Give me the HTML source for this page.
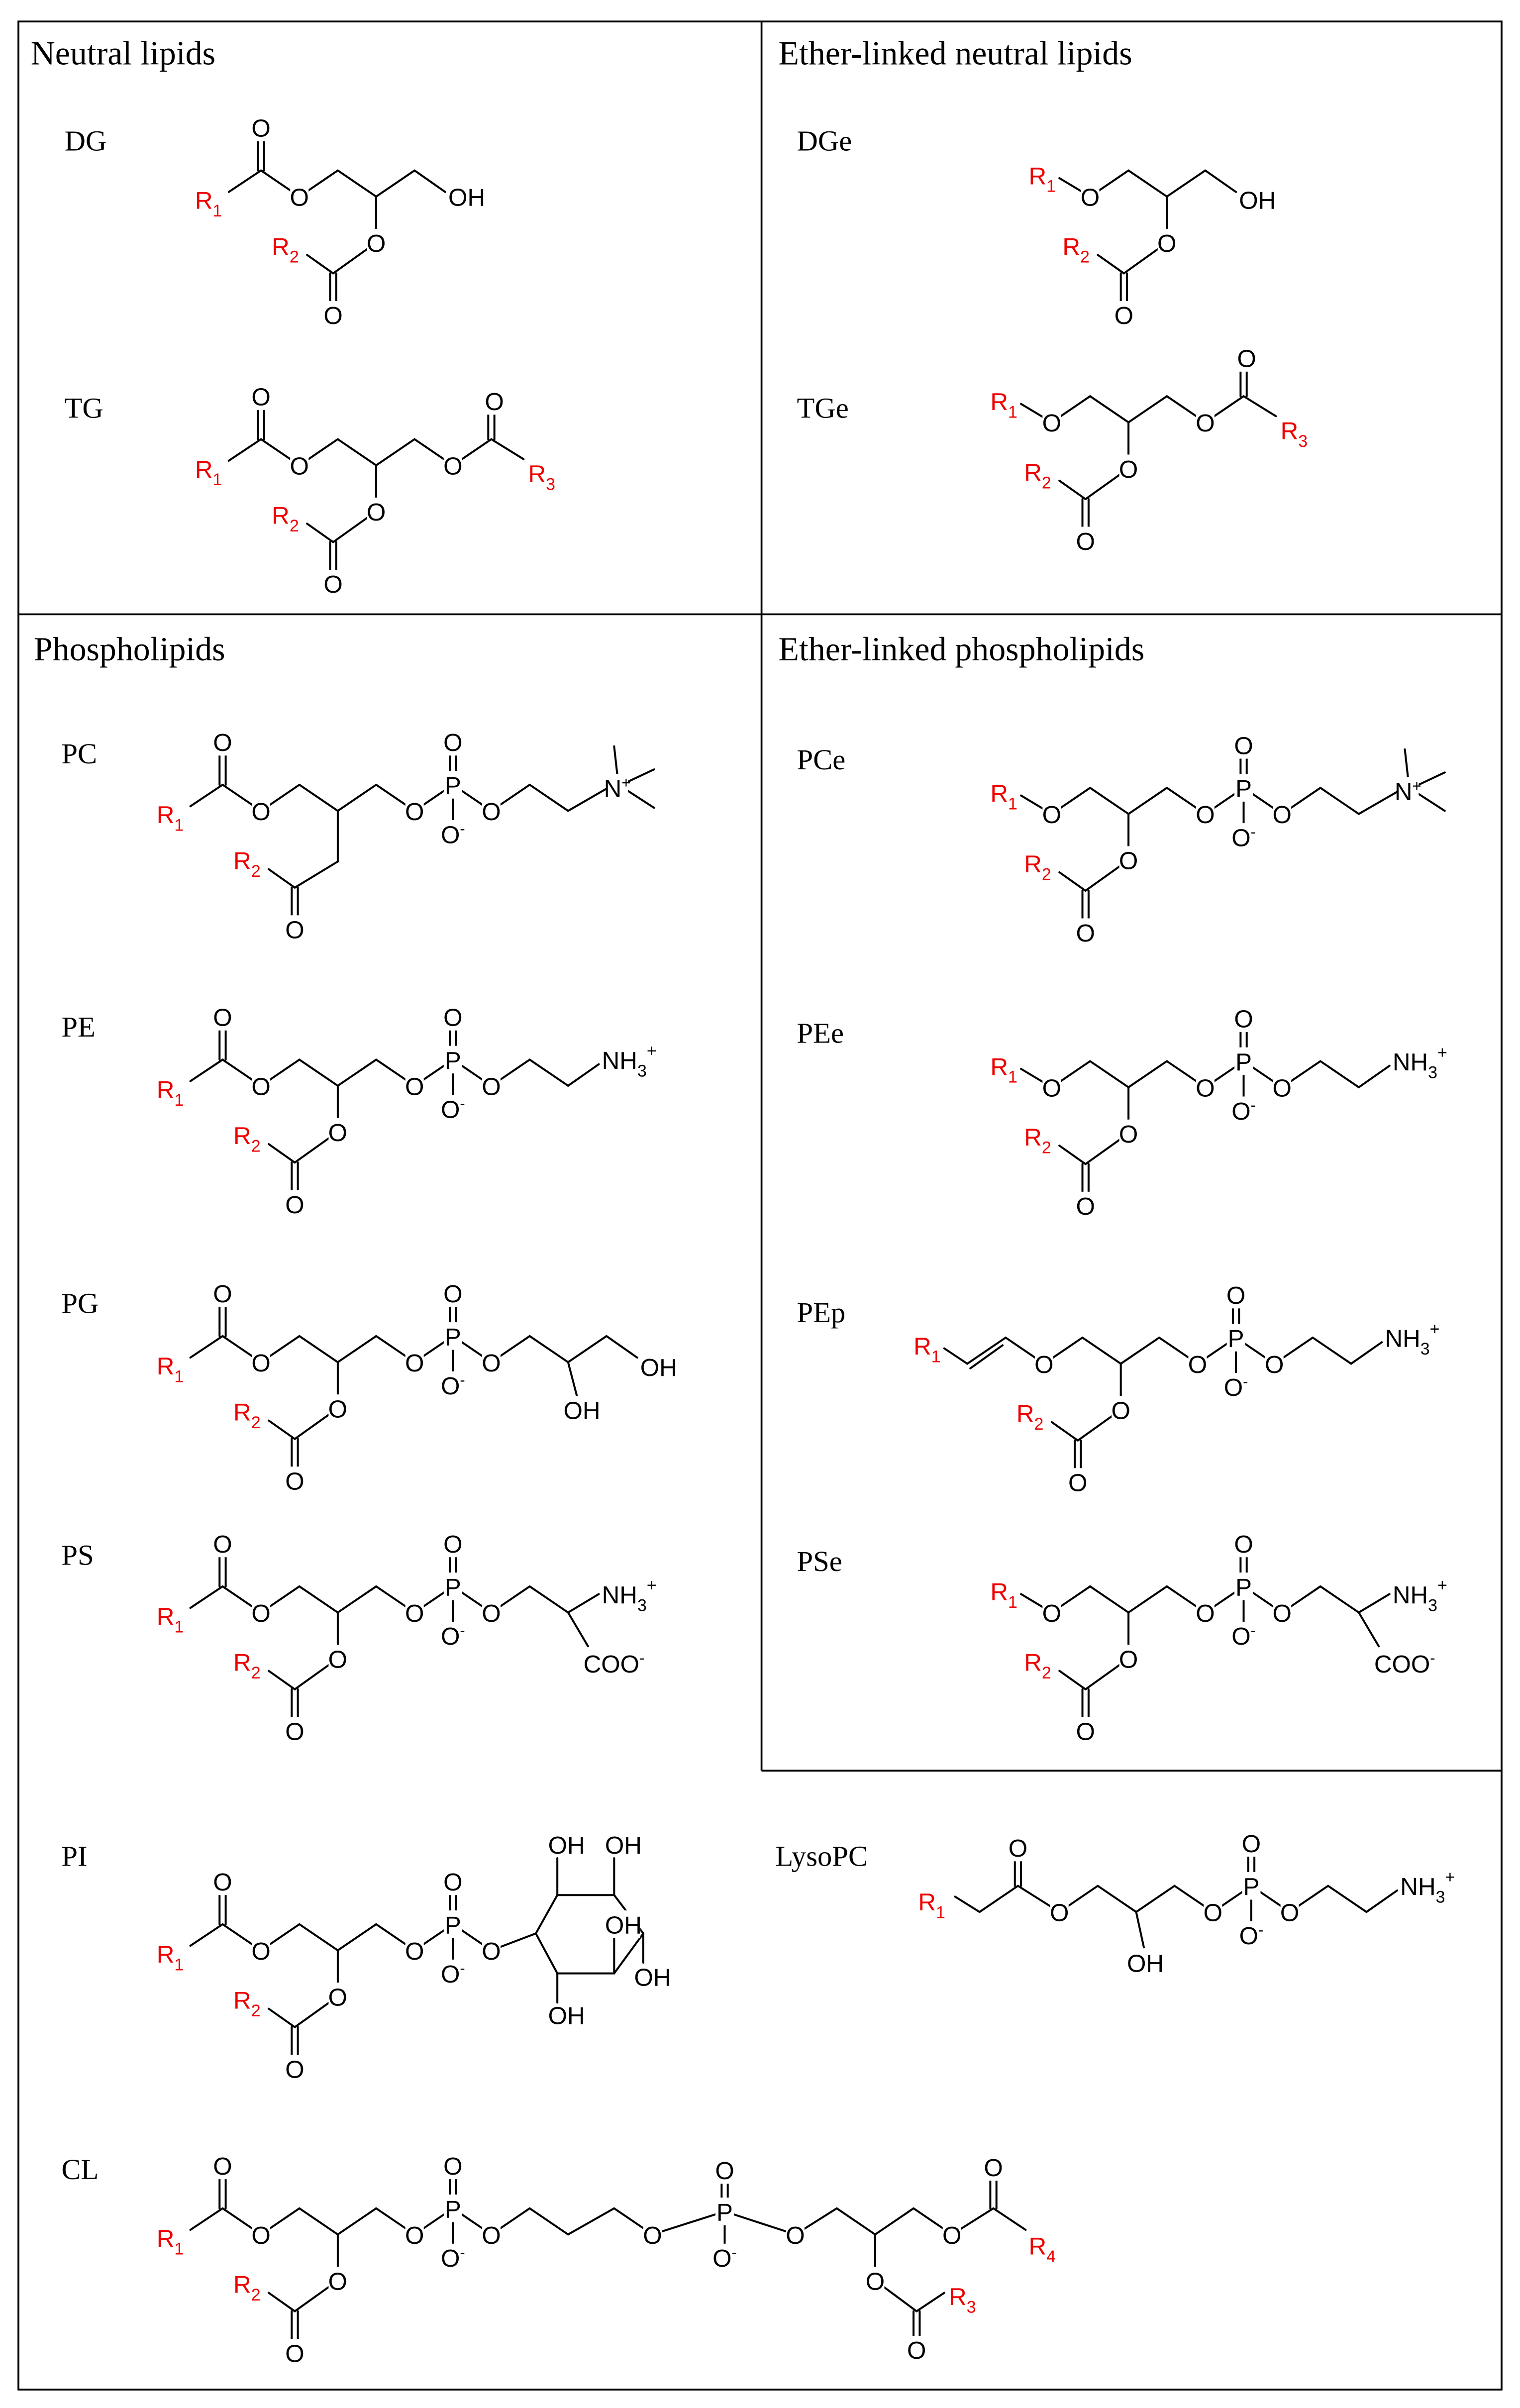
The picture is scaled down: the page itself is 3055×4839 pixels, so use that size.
<!DOCTYPE html>
<html><head><meta charset="utf-8"><style>
html,body{margin:0;padding:0;background:#fff}
svg{display:block}
#b line{stroke:#000;stroke-width:1.3;stroke-linecap:round}
text{font-family:"Liberation Sans",sans-serif;font-size:16px}
.t{font-family:"Liberation Serif",serif;font-size:22px}
.n{font-family:"Liberation Serif",serif;font-size:19px}
</style></head><body>
<svg id="s" width="3055" height="4839" viewBox="0 0 990 1568" preserveAspectRatio="none" xmlns="http://www.w3.org/2000/svg">
<rect x="0" y="0" width="990" height="1568" fill="#fff"/>
<g fill="none" stroke="#000" stroke-width="1.2">
<rect x="12" y="14" width="966" height="1542"/>
<line x1="496" y1="14" x2="496" y2="1153"/>
<line x1="12" y1="400" x2="978" y2="400"/>
<line x1="496" y1="1153" x2="978" y2="1153"/>
</g>
<text class="t" x="20" y="42">Neutral lipids</text>
<text class="t" x="507" y="42">Ether-linked neutral lipids</text>
<text class="t" x="22" y="430">Phospholipids</text>
<text class="t" x="507" y="430">Ether-linked phospholipids</text>
<text class="n" x="42" y="98">DG</text>
<text class="n" x="42" y="272">TG</text>
<text class="n" x="519" y="98">DGe</text>
<text class="n" x="519" y="272">TGe</text>
<text class="n" x="40" y="497">PC</text>
<text class="n" x="40" y="675">PE</text>
<text class="n" x="40" y="855">PG</text>
<text class="n" x="40" y="1019">PS</text>
<text class="n" x="40" y="1215">PI</text>
<text class="n" x="40" y="1419">CL</text>
<text class="n" x="519" y="501">PCe</text>
<text class="n" x="519" y="679">PEe</text>
<text class="n" x="519" y="861">PEp</text>
<text class="n" x="519" y="1023">PSe</text>
<text class="n" x="505" y="1215">LysoPC</text>
<g id="b"></g><g id="l"></g>
</svg>
<script>
let bonds='',labels='';
const RED='#ee0000';
function L(a,b,c,d){bonds+=`<line x1="${a}" y1="${b}" x2="${c}" y2="${d}"/>`}
function D(x,y1,y2){L(x-2,y1,x-2,y2);L(x+2,y1,x+2,y2)}
function O(x,y,t,w){t=t||'O';w=w||12;labels+=`<rect x="${x-w/2}" y="${y-9}" width="${w}" height="18" fill="#fff"/><text x="${x}" y="${y+6}" text-anchor="middle">${t}</text>`}
function T(x,y,h,col,anc){labels+=`<text x="${x}" y="${y+6}" fill="${col||'#000'}" text-anchor="${anc||'start'}">${h}</text>`}
function R(n){return `R<tspan font-size="11" dy="5">${n}</tspan>`}
const NH3='NH<tspan font-size="11" dy="5">3</tspan><tspan font-size="11" dy="-13">+</tspan>';
const OM='O<tspan font-size="10" dy="-6">-</tspan>';
function head(cx,cy,mode,plain){
 L(cx,cy,cx-25,cy-17);L(cx-25,cy-17,cx-50,cy);O(cx-50,cy);
 if(mode==='ether'){L(cx-50,cy,cx-70,cy-12);T(cx-90,cy-14,R(1),RED);}
 else if(mode==='vinyl'){L(cx-50,cy,cx-75,cy-17);L(cx-75,cy-17,cx-100,cy);L(cx-77,cy-12,cx-98,cy+3);L(cx-100,cy,cx-115,cy-10);T(cx-135,cy-12,R(1),RED);}
 else{L(cx-50,cy,cx-75,cy-17);D(cx-75,cy-17,cy-38);O(cx-75,cy-45);L(cx-75,cy-17,cx-96,cy-3);T(cx-118,cy+2,R(1),RED);}
 if(plain){L(cx,cy,cx,cy+33);L(cx,cy+33,cx-28,cy+50);}
 else{L(cx,cy,cx,cy+30);O(cx,cy+30);L(cx,cy+30,cx-28,cy+50);}
 D(cx-28,cy+50,cy+70);O(cx-28,cy+77);L(cx-28,cy+50,cx-45,cy+38);T(cx-68,cy+32,R(2),RED);
 L(cx,cy,cx+25,cy-17);
}
function phos(x,y){O(x,y);L(x,y,x+25,y-17);D(x+25,y-25,y-38);O(x+25,y-45);L(x+25,y-17,x+25,y+8);O(x+25,y+15,OM);L(x+25,y-17,x+50,y);O(x+25,y-17,'P');O(x+50,y);}
function chol(x,y){L(x,y,x+25,y-17);L(x+25,y-17,x+50,y);L(x+50,y,x+76,y-15);O(x+82,y-15,'N<tspan font-size="10" dy="-6">+</tspan>',14);L(x+82,y-24,x+80,y-42);L(x+89,y-13,x+106,y-2);L(x+89,y-19,x+106,y-27);}
function eth(x,y){L(x,y,x+25,y-17);L(x+25,y-17,x+50,y);L(x+50,y,x+70,y-14);T(x+72,y-17,NH3);}
function ser(x,y){L(x,y,x+25,y-17);L(x+25,y-17,x+50,y);L(x+50,y,x+70,y-12);T(x+72,y-12,NH3);L(x+50,y,x+63,y+22);T(x+60,y+33,'COO<tspan font-size="10" dy="-6">-</tspan>');}
// DG
head(245,128);L(270,111,290,125);T(292,128,'OH');
// TG
head(245,303);L(270,286,295,303);O(295,303);L(295,303,320,286);D(320,286,266);O(322,261);L(320,286,341,299);T(344,308,R(3),RED);
// DGe
head(760,128,'ether');L(785,111,805,125);T(807,130,'OH');
// TGe
head(735,275,'ether');L(760,258,785,275);O(785,275);L(785,275,810,258);D(810,258,238);O(812,233);L(810,258,831,271);T(834,280,R(3),RED);
// PC
head(220,528,null,true);L(245,511,270,528);phos(270,528);chol(320,528);
// PE
head(220,707);L(245,690,270,707);phos(270,707);eth(320,707);
// PG
head(220,887);L(245,870,270,887);phos(270,887);L(320,887,345,870);L(345,870,370,887);L(370,887,376,910);O(379,918,'OH',22);L(370,887,395,870);L(395,870,415,884);T(417,890,'OH');
// PS
head(220,1050);L(245,1033,270,1050);phos(270,1050);ser(320,1050);
// PI
head(220,1270);L(245,1253,270,1270);phos(270,1270);
L(320,1270,349,1259);L(349,1259,363,1234);L(363,1234,400,1234);L(400,1234,419,1259);L(419,1259,400,1285);L(400,1285,363,1285);L(363,1285,349,1259);
L(363,1234,363,1210);L(400,1234,400,1210);L(400,1285,400,1262);L(419,1259,419,1278);L(363,1285,363,1304);
T(369,1201,'OH',null,'middle');T(406,1201,'OH',null,'middle');O(406,1253,'OH',22);T(425,1287,'OH',null,'middle');T(369,1312,'OH',null,'middle');
// CL
head(220,1455);L(245,1438,270,1455);phos(270,1455);L(320,1455,345,1438);L(345,1438,370,1455);L(370,1455,400,1438);L(400,1438,425,1455);O(425,1455);
L(425,1455,472,1440);D(472,1432,1420);O(472,1413);L(472,1440,472,1463);O(472,1470,OM);L(472,1440,518,1455);O(472,1440,'P');O(518,1455);
L(518,1455,545,1438);L(545,1438,570,1455);L(570,1455,570,1485);O(570,1485);L(570,1485,597,1505);D(597,1505,1524);O(597,1530);L(597,1505,615,1493);T(618,1495,R(3),RED);
L(570,1455,595,1438);L(595,1438,620,1455);O(620,1455);L(620,1455,647,1438);D(647,1438,1418);O(647,1411);L(647,1438,668,1452);T(670,1462,R(4),RED);
// PCe
head(735,530,'ether');L(760,513,785,530);phos(785,530);chol(835,530);
// PEe
head(735,708,'ether');L(760,691,785,708);phos(785,708);eth(835,708);
// PEp
head(730,888,'vinyl');L(755,871,780,888);phos(780,888);eth(830,888);
// PSe
head(735,1050,'ether');L(760,1033,785,1050);phos(785,1050);ser(835,1050);
// LysoPC
L(740,1245,765,1228);L(765,1228,790,1245);phos(790,1245);eth(840,1245);
L(740,1245,745,1268);O(746,1278,'OH',22);L(740,1245,715,1228);L(715,1228,690,1245);O(690,1245);L(690,1245,663,1228);D(663,1228,1210);O(663,1203);L(663,1228,638,1245);L(638,1245,622,1235);T(598,1238,R(1),RED);
document.getElementById('b').innerHTML=bonds;
document.getElementById('l').innerHTML=labels;
</script>
</body></html>
